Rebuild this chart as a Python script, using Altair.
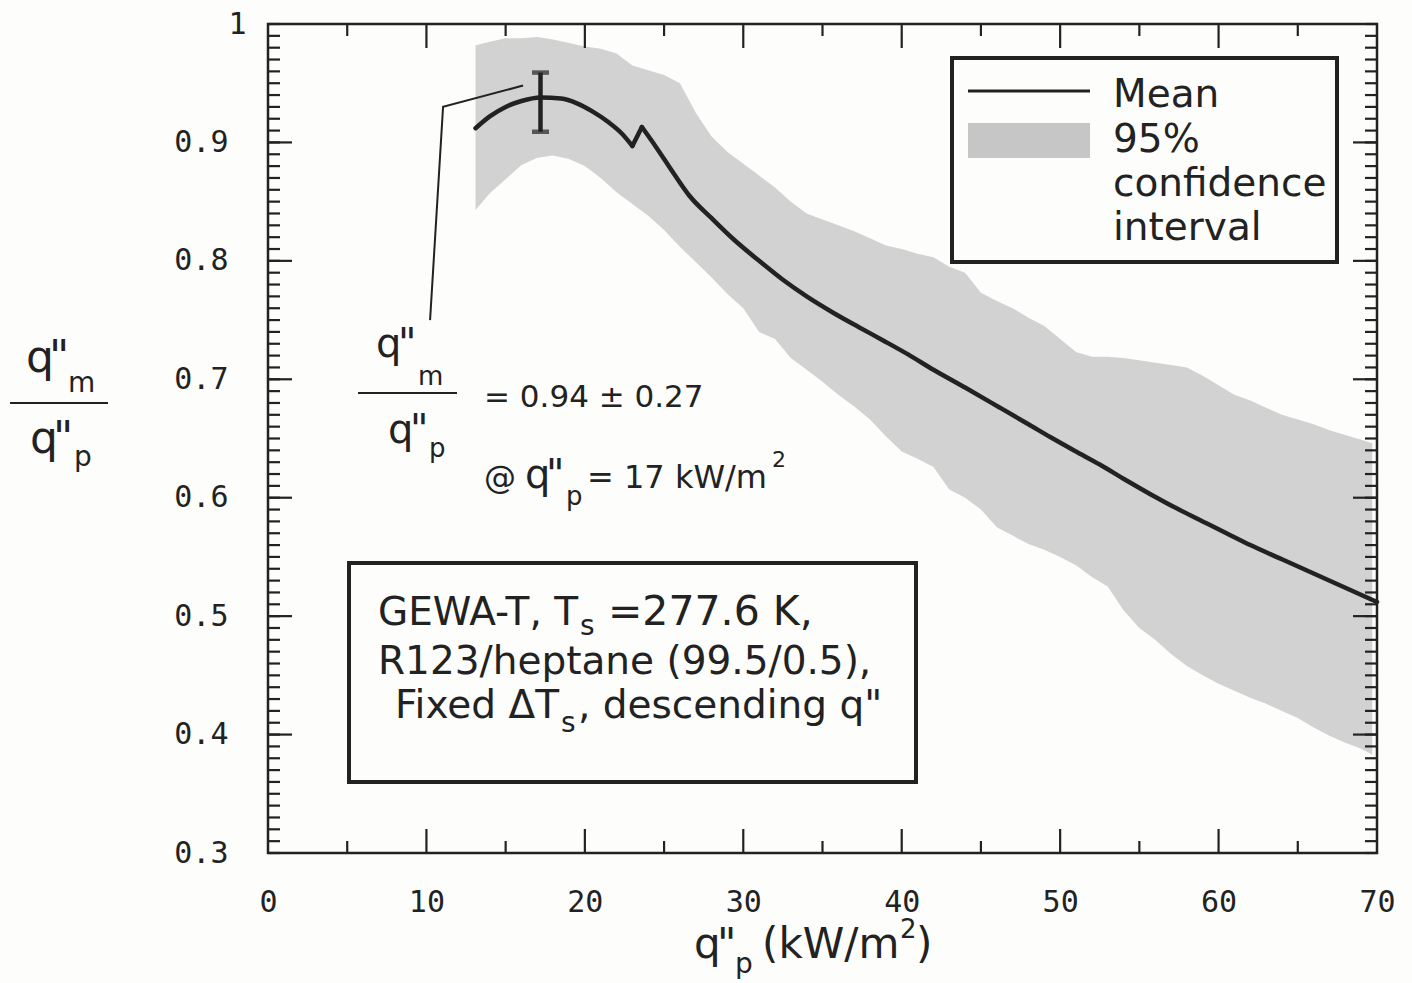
import altair as alt
import pandas as pd

# ---------------- data ----------------
mean_x = [13.1, 14, 15, 16, 17.2, 18.5, 19.5, 20.5, 21.5, 22.3, 23.0, 23.6, 24.5, 25.6,
          26.6, 28, 29.4, 31, 32.5, 34, 35.7, 37.3, 38.8, 40.4, 42, 44, 46.2, 48, 49.4,
          51, 52.5, 54, 55.7, 57.5, 59, 60.5, 62, 64, 66, 68, 70]
mean_y = [0.912, 0.922, 0.930, 0.935, 0.938, 0.937, 0.933, 0.926, 0.917, 0.908, 0.897,
          0.913, 0.896, 0.874, 0.855, 0.836, 0.818, 0.800, 0.784, 0.770, 0.756, 0.744,
          0.733, 0.721, 0.708, 0.693, 0.676, 0.662, 0.651, 0.639, 0.628, 0.616, 0.603,
          0.590, 0.580, 0.570, 0.560, 0.548, 0.536, 0.524, 0.512]
mean_jump_x = 23.3  # the mean curve jumps upward here

band_x = [13.1, 14, 15, 16, 17, 18, 19, 20, 21, 22, 23, 24, 25, 26, 27, 28, 29, 30,
          31, 32, 33, 34, 35, 36, 37, 38, 39, 40, 41, 42, 43, 44, 45, 46, 47, 48, 49,
          50, 51, 52, 53, 54, 55, 56, 57, 58, 59, 60, 61, 62, 63, 64, 65, 66, 67, 68,
          69, 69.7]
band_hi = [0.982, 0.985, 0.988, 0.988, 0.989, 0.987, 0.984, 0.981, 0.979, 0.975, 0.965,
           0.961, 0.957, 0.950, 0.925, 0.905, 0.892, 0.882, 0.872, 0.862, 0.850, 0.840,
           0.835, 0.830, 0.825, 0.819, 0.813, 0.810, 0.806, 0.803, 0.795, 0.790, 0.773,
           0.766, 0.760, 0.752, 0.745, 0.734, 0.723, 0.719, 0.719, 0.718, 0.716, 0.714,
           0.712, 0.710, 0.703, 0.695, 0.687, 0.682, 0.676, 0.670, 0.666, 0.662, 0.657,
           0.653, 0.649, 0.646]
band_lo = [0.843, 0.857, 0.869, 0.881, 0.887, 0.889, 0.886, 0.880, 0.870, 0.858, 0.848,
           0.838, 0.826, 0.812, 0.799, 0.786, 0.772, 0.760, 0.740, 0.734, 0.718, 0.708,
           0.698, 0.687, 0.677, 0.666, 0.652, 0.639, 0.633, 0.626, 0.607, 0.600, 0.590,
           0.575, 0.568, 0.561, 0.556, 0.550, 0.543, 0.533, 0.525, 0.505, 0.490, 0.480,
           0.468, 0.458, 0.450, 0.443, 0.437, 0.431, 0.426, 0.420, 0.414, 0.406, 0.399,
           0.393, 0.388, 0.383]

err_x = [17.2]
err_lo = [0.909]
err_hi = [0.959]

leader_x = [16.1, 11.05, 10.23]
leader_y = [0.948, 0.930, 0.750]

x_tick_labels = [0, 10, 20, 30, 40, 50, 60, 70]
y_tick_labels = [0.3, 0.4, 0.5, 0.6, 0.7, 0.8, 0.9, 1.0]
x_minor_ticks = [5, 15, 25, 35, 45, 55, 65]
x_major_ticks = [10, 20, 30, 40, 50, 60]
y_minor_ticks = [round(0.30 + 0.01 * i, 2) for i in range(71)]
y_major_ticks = [0.4, 0.5, 0.6, 0.7, 0.8, 0.9]

# ---------------- style ----------------
W, H = 1109, 829
INK = "#222222"
BG = "#fdfdfb"
SANS = "DejaVu Sans"
MONO = "DejaVu Sans Mono"

xs = alt.Scale(domain=[0, 70], nice=False, zero=False)
ys = alt.Scale(domain=[0.3, 1.0], nice=False, zero=False)
xax = alt.Axis(values=x_tick_labels, title=None, ticks=False, domain=False, grid=False,
               labelFont=MONO, labelFontSize=30, labelColor=INK, labelPadding=34,
               labelFlush=False)
yax = alt.Axis(values=y_tick_labels, title=None, ticks=False, domain=False, grid=False,
               labelFont=MONO, labelFontSize=30, labelColor=INK, labelPadding=40,
               labelFlush=False,
               labelAlign={"condition": {"test": "datum.value == 1", "value": "left"},
                           "value": "right"},
               labelExpr="datum.value == 1 ? '1' : format(datum.value, '.1f')")


def X(f):
    return alt.X(f, scale=xs, axis=xax)


def Y(f):
    return alt.Y(f, scale=ys, axis=yax)


band_df = pd.DataFrame({"x": band_x, "lo": band_lo, "hi": band_hi})
mean_df = pd.DataFrame({"x": mean_x, "y": mean_y})
mean_df["seg"] = (mean_df["x"] > mean_jump_x).astype(int)
err_df = pd.DataFrame({"x": err_x, "lo": err_lo, "hi": err_hi})
lead_df = pd.DataFrame({"x": leader_x, "y": leader_y})
one = pd.DataFrame({"a": [0]})

band = alt.Chart(band_df).mark_area(color="#d2d2d2", opacity=1).encode(
    x=X("x:Q"), y=Y("lo:Q"), y2="hi:Q")

# smooth mean curve on each side of the jump, plus the straight jump itself
mean_line = alt.Chart(mean_df).mark_line(
    color=INK, strokeWidth=4.5, interpolate="monotone", strokeCap="round").encode(
    x=X("x:Q"), y=Y("y:Q"), detail="seg:N")
jump_df = mean_df.iloc[[mean_df.index[mean_df["seg"] == 0][-1],
                        mean_df.index[mean_df["seg"] == 1][0]]]
mean_jump = alt.Chart(jump_df).mark_line(color=INK, strokeWidth=4.5, strokeCap="round").encode(
    x=X("x:Q"), y=Y("y:Q"))

errbar = alt.Chart(err_df).mark_errorbar(ticks=True, size=17, thickness=4.5, color=INK).encode(
    x=X("x:Q"), y=Y("lo:Q"), y2="hi:Q")

leader = alt.Chart(lead_df).mark_line(color=INK, strokeWidth=2).encode(
    x=X("x:Q"), y=Y("y:Q"))

layers = [band, mean_line, mean_jump, errbar, leader]


# ---- inward tick marks on all four sides ----
def yticks(vals, length, right=False):
    df = pd.DataFrame({"v": vals})
    x0, x1 = (W, W - length) if right else (0, length)
    return alt.Chart(df).mark_rule(color=INK, strokeWidth=2.2).encode(
        y=Y("v:Q"), x=alt.value(x0), x2=alt.value(x1))


def xticks(vals, length, top=False):
    df = pd.DataFrame({"v": vals})
    y0, y1 = (0, length) if top else (H, H - length)
    return alt.Chart(df).mark_rule(color=INK, strokeWidth=2.2).encode(
        x=X("v:Q"), y=alt.value(y0), y2=alt.value(y1))


layers += [yticks(y_minor_ticks, 12), yticks(y_major_ticks, 24),
           yticks(y_minor_ticks, 12, True), yticks(y_major_ticks, 24, True),
           xticks(x_minor_ticks, 12), xticks(x_major_ticks, 24),
           xticks(x_minor_ticks, 12, True), xticks(x_major_ticks, 24, True)]

OX, OY = 268, 24  # plot origin in the page


# ---- helpers for decorations (page pixel positions converted to plot-relative) ----
def T(s, ax, ay, size, font=SANS, align="left"):
    return alt.Chart(pd.DataFrame({"t": [s]})).mark_text(
        align=align, baseline="alphabetic", font=font, fontSize=size, color=INK
    ).encode(x=alt.value(ax - OX), y=alt.value(ay - OY), text="t:N")


def hline(x0, x1, y, w=2):
    return alt.Chart(one).mark_rule(color=INK, strokeWidth=w).encode(
        x=alt.value(x0 - OX), x2=alt.value(x1 - OX), y=alt.value(y - OY))


def box(x0, y0, x1, y1, w=4):
    return alt.Chart(one).mark_rect(fill=BG, stroke=INK, strokeWidth=w).encode(
        x=alt.value(x0 - OX), x2=alt.value(x1 - OX), y=alt.value(y0 - OY), y2=alt.value(y1 - OY))


def swatch(x0, y0, x1, y1, color):
    return alt.Chart(one).mark_rect(fill=color).encode(
        x=alt.value(x0 - OX), x2=alt.value(x1 - OX), y=alt.value(y0 - OY), y2=alt.value(y1 - OY))


# legend
layers += [box(952, 58, 1337, 262),
           hline(968, 1090, 91, 3),
           swatch(968, 123, 1090, 158, "#c6c6c6"),
           T("Mean", 1113, 107, 39), T("95%", 1113, 152, 39),
           T("confidence", 1113, 196, 39), T("interval", 1113, 240, 39)]

# condition box
layers += [box(349, 563, 916, 782),
           T("GEWA-T, T", 378, 625, 39), T("s", 580, 635, 28), T("=277.6 K,", 608, 625, 41),
           T("R123/heptane (99.5/0.5),", 378, 674, 39),
           T("Fixed \u0394T", 395, 718, 39), T("s", 561, 732, 28),
           T(", descending q\"", 578, 718, 39)]

# ratio annotation
layers += [T("q", 376, 357, 40), T("\"", 398, 357, 40), T("m", 418, 385, 26),
           hline(358, 457, 393, 2),
           T("q", 388, 443, 40), T("\"", 410, 443, 40), T("p", 429, 457, 26),
           T("= 0.94 \u00b1 0.27", 484, 407, 31),
           T("@", 484, 488, 32), T("q", 525, 488, 40), T("\"", 546, 488, 40),
           T("p", 566, 505, 26),
           T("= 17 kW/m", 587, 488, 32), T("2", 772, 467, 22)]

# y-axis title (fraction)
layers += [T("q", 26, 372, 44), T("\"", 49, 372, 44), T("m", 68, 392, 28),
           hline(10, 108, 403, 2),
           T("q", 30, 453, 44), T("\"", 53, 453, 44), T("p", 74, 466, 28)]

# x-axis title
layers += [T("q", 694, 958, 42), T("\"", 717, 958, 42), T("p", 735, 973, 28),
           T("(kW/m", 762, 958, 42), T("2", 900, 938, 26), T(")", 916, 958, 42)]

chart = alt.layer(*layers).properties(
    width=W, height=H, background=BG,
    autosize=alt.AutoSizeParams(type="none"),
    padding={"left": OX, "top": OY, "right": 1412 - OX - W, "bottom": 983 - OY - H},
).configure_view(stroke=INK, strokeWidth=2.5)

chart.save("out.html", embed_options={"renderer": "svg", "actions": False})
